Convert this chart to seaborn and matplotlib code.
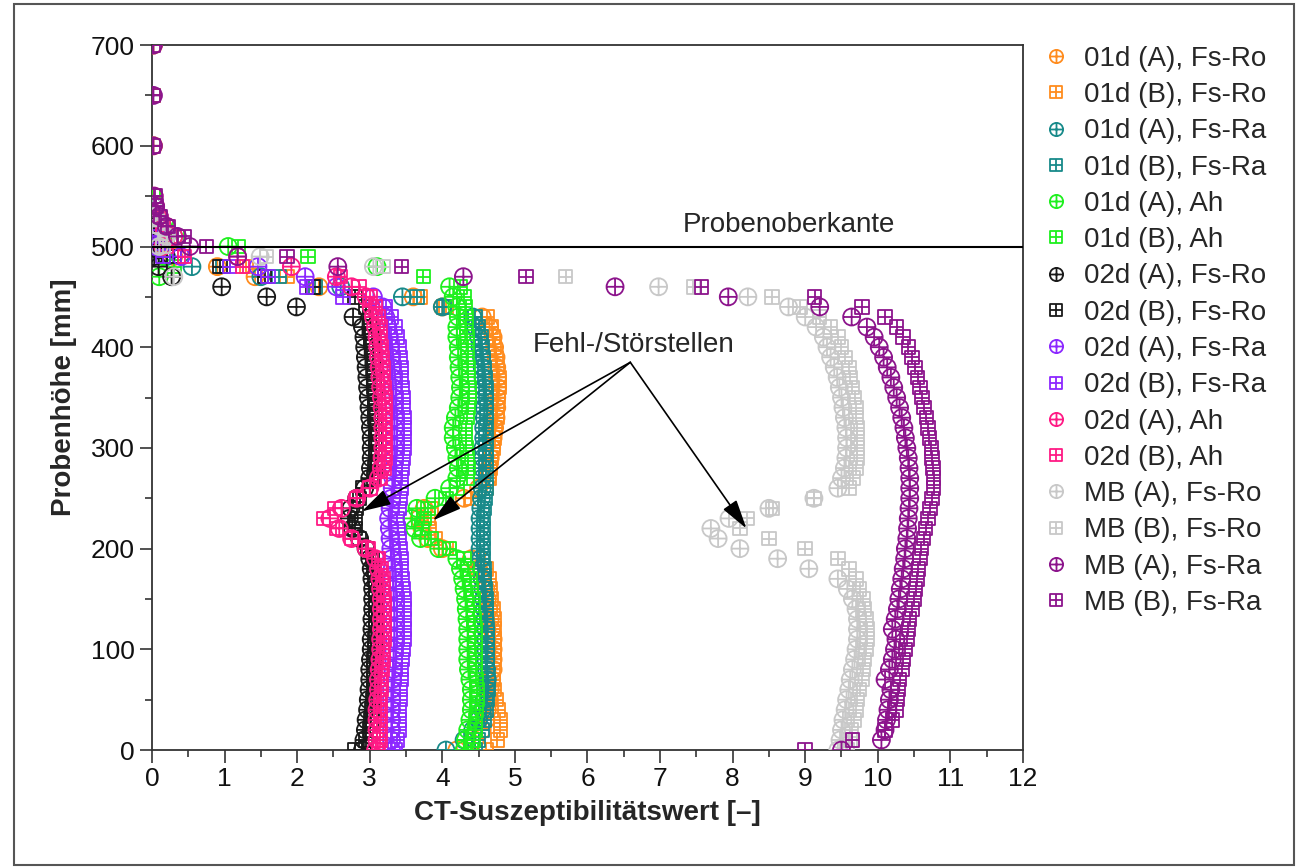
import numpy as np
import pandas as pd
import matplotlib
matplotlib.use("Agg")
import matplotlib.pyplot as plt
import seaborn as sns
from matplotlib.path import Path
from matplotlib.lines import Line2D
from matplotlib.patches import Rectangle

nan = np.nan

# sampling heights of the profiles (mm), top to bottom
HEIGHTS = [500, 490, 480, 470, 460, 450, 440, 430, 420, 410,
           400, 390, 380, 370, 360, 350, 340, 330, 320, 310,
           300, 290, 280, 270, 260, 250, 240, 230, 220, 210,
           200, 190, 180, 170, 160, 150, 140, 130, 120, 110,
           100, 90, 80, 70, 60, 50, 40, 30, 20, 10,
           0]
# points above the specimen top edge
TOP_HEIGHTS = [700, 650, 600, 550, 540, 530, 520, 510]

LABELS = ["01d (A), Fs-Ro", "01d (B), Fs-Ro", "01d (A), Fs-Ra", "01d (B), Fs-Ra",
          "01d (A), Ah", "01d (B), Ah", "02d (A), Fs-Ro", "02d (B), Fs-Ro",
          "02d (A), Fs-Ra", "02d (B), Fs-Ra", "02d (A), Ah", "02d (B), Ah",
          "MB (A), Fs-Ro", "MB (B), Fs-Ro", "MB (A), Fs-Ra", "MB (B), Fs-Ra"]

COLORS = ["#ff8c1e", "#ff8c1e", "#188a8a", "#188a8a",
          "#1ef01e", "#1ef01e", "#1a1a1a", "#1a1a1a",
          "#8c28ff", "#8c28ff", "#ff1a85", "#ff1a85",
          "#c8c8c8", "#c8c8c8", "#8c148c", "#8c148c"]

d01_A_FsRo = [0.05, 0.3, 0.9, 1.42, 2.3, 3.6, 4.0, 4.55, 4.65, 4.7,
              4.72, 4.74, 4.75, 4.76, 4.76, 4.75, 4.75, 4.74, 4.72, 4.7,
              4.68, 4.66, 4.64, 4.62, 4.5, 4.3, 3.75, 3.68, 3.72, 3.8,
              4.0, 4.4, 4.5, 4.55, 4.6, 4.62, 4.64, 4.66, 4.68, 4.7,
              4.7, 4.7, 4.7, 4.68, 4.66, 4.65, 4.62, 4.6, 4.55, 4.45,
              4.2]
d01_B_FsRo = [0.08, 0.4, 1.3, 1.86, 2.25, 3.7, 4.05, 4.62, 4.68, 4.7,
              4.72, 4.74, 4.76, 4.78, 4.78, 4.77, 4.76, 4.75, 4.73, 4.72,
              4.7, 4.68, 4.66, 4.64, 4.6, 4.4, 3.85, 3.8, 3.82, 3.9,
              4.05, 4.5, 4.6, 4.64, 4.66, 4.68, 4.7, 4.71, 4.72, 4.72,
              4.72, 4.71, 4.7, 4.7, 4.72, 4.74, 4.77, 4.8, 4.8, 4.76,
              4.6]
d01_A_FsRa = [0.03, 0.2, 0.55, 1.5, 2.6, 3.45, 4.0, 4.42, 4.46, 4.5,
              4.52, 4.54, 4.55, 4.56, 4.57, 4.58, 4.58, 4.58, 4.57, 4.57,
              4.56, 4.56, 4.55, 4.55, 4.55, 4.54, 4.53, 4.52, 4.52, 4.52,
              4.52, 4.53, 4.54, 4.55, 4.56, 4.57, 4.58, 4.59, 4.6, 4.6,
              4.6, 4.6, 4.61, 4.62, 4.6, 4.58, 4.55, 4.5, 4.42, 4.3,
              4.05]
d01_B_FsRa = [0.05, 0.3, 0.98, 1.75, 2.25, 3.65, 4.02, 4.45, 4.5, 4.53,
              4.55, 4.56, 4.58, 4.59, 4.6, 4.6, 4.61, 4.61, 4.6, 4.6,
              4.6, 4.6, 4.6, 4.6, 4.6, 4.59, 4.58, 4.57, 4.57, 4.57,
              4.57, 4.57, 4.58, 4.58, 4.59, 4.6, 4.6, 4.61, 4.62, 4.62,
              4.62, 4.62, 4.62, 4.63, 4.63, 4.62, 4.6, 4.58, 4.55, 4.5,
              4.45]
d01_A_Ah = [1.05, 0.15, 3.1, 0.1, 4.1, 4.15, 4.2, 4.22, 4.2, 4.2,
            4.22, 4.22, 4.23, 4.24, 4.25, 4.24, 4.22, 4.18, 4.15, 4.15,
            4.18, 4.2, 4.22, 4.2, 4.1, 3.9, 3.65, 3.58, 3.62, 3.7,
            3.95, 4.2, 4.25, 4.28, 4.3, 4.32, 4.33, 4.34, 4.35, 4.35,
            4.35, 4.35, 4.36, 4.38, 4.4, 4.4, 4.4, 4.38, 4.35, 4.32,
            4.3]
d01_B_Ah = [1.19, 2.15, 0.3, 3.74, 4.25, 4.3, 4.32, 4.33, 4.33, 4.34,
            4.35, 4.35, 4.36, 4.36, 4.37, 4.37, 4.36, 4.34, 4.32, 4.32,
            4.33, 4.35, 4.36, 4.34, 4.2, 4.05, 3.8, 3.75, 3.72, 3.85,
            4.1, 4.3, 4.35, 4.38, 4.4, 4.42, 4.43, 4.44, 4.45, 4.45,
            4.45, 4.46, 4.46, 4.47, 4.48, 4.48, 4.47, 4.46, 4.45, 4.43,
            4.4]
d02_A_FsRo = [0.02, 0.03, 0.09, 0.27, 0.96, 1.58, 1.99, 2.77, 2.9, 2.92,
              2.93, 2.94, 2.95, 2.96, 2.97, 2.98, 2.99, 3.0, 3.01, 3.02,
              3.02, 3.02, 3.01, 3.0, 2.93, 2.82, 2.74, 2.72, 2.76, 2.86,
              2.95, 3.0, 3.02, 3.03, 3.04, 3.04, 3.04, 3.03, 3.03, 3.02,
              3.02, 3.01, 3.0, 3.0, 2.99, 2.98, 2.97, 2.95, 2.94, 2.92,
              2.9]
d02_B_FsRo = [0.03, 0.3, 0.94, 1.55, 2.22, 2.8, 2.95, 3.0, 3.02, 3.03,
              3.04, 3.05, 3.05, 3.06, 3.06, 3.07, 3.07, 3.07, 3.08, 3.08,
              3.08, 3.08, 3.07, 3.05, 2.91, 2.86, 2.82, 2.8, 2.8, 2.85,
              2.97, 3.04, 3.06, 3.07, 3.08, 3.08, 3.08, 3.08, 3.08, 3.07,
              3.07, 3.06, 3.06, 3.05, 3.05, 3.04, 3.03, 3.02, 3.0, 2.95,
              2.8]
d02_A_FsRa = [0.05, 0.4, 1.46, 2.11, 2.54, 3.05, 3.18, 3.22, 3.25, 3.27,
              3.28, 3.29, 3.3, 3.31, 3.32, 3.33, 3.33, 3.34, 3.34, 3.34,
              3.34, 3.34, 3.33, 3.32, 3.31, 3.3, 3.28, 3.26, 3.27, 3.28,
              3.29, 3.3, 3.31, 3.32, 3.33, 3.33, 3.34, 3.34, 3.34, 3.34,
              3.33, 3.33, 3.32, 3.31, 3.3, 3.3, 3.3, 3.3, 3.3, 3.3,
              3.3]
d02_B_FsRa = [0.1, 0.15, 1.07, 1.6, 2.13, 2.63, 3.22, 3.3, 3.35, 3.38,
              3.4, 3.42, 3.43, 3.44, 3.45, 3.46, 3.46, 3.47, 3.47, 3.47,
              3.47, 3.46, 3.45, 3.44, 3.43, 3.42, 3.4, 3.38, 3.39, 3.4,
              3.42, 3.43, 3.44, 3.45, 3.46, 3.47, 3.47, 3.47, 3.47, 3.47,
              3.46, 3.45, 3.44, 3.43, 3.42, 3.42, 3.41, 3.4, 3.4, 3.38,
              3.35]
d02_A_Ah = [0.15, 1.18, 1.92, 2.54, 2.75, 2.95, 3.02, 3.05, 3.08, 3.1,
            3.11, 3.12, 3.13, 3.14, 3.15, 3.16, 3.17, 3.18, 3.18, 3.18,
            3.18, 3.17, 3.16, 3.12, 3.0, 2.82, 2.61, 2.45, 2.58, 2.75,
            2.95, 3.08, 3.12, 3.14, 3.15, 3.16, 3.16, 3.16, 3.16, 3.15,
            3.15, 3.14, 3.13, 3.12, 3.12, 3.11, 3.1, 3.1, 3.1, 3.1,
            3.08]
d02_B_Ah = [0.2, 0.45, 1.25, 2.6, 2.85, 3.0, 3.08, 3.12, 3.14, 3.15,
            3.16, 3.17, 3.18, 3.19, 3.2, 3.21, 3.22, 3.22, 3.22, 3.22,
            3.22, 3.21, 3.2, 3.15, 3.0, 2.82, 2.52, 2.36, 2.54, 2.75,
            2.98, 3.12, 3.16, 3.18, 3.19, 3.2, 3.2, 3.2, 3.2, 3.2,
            3.19, 3.18, 3.17, 3.16, 3.16, 3.15, 3.15, 3.15, 3.14, 3.14,
            3.12]
MB_A_FsRo = [0.1, 1.49, 3.05, 0.3, 6.98, 8.21, 8.77, 9.0, 9.15, 9.25,
             9.3, 9.35, 9.4, 9.44, 9.47, 9.5, 9.52, 9.54, 9.56, 9.57,
             9.57, 9.56, 9.54, 9.5, 9.45, 9.12, 8.5, 7.95, 7.7, 7.8,
             8.1, 8.62, 9.05, 9.45, 9.58, 9.65, 9.7, 9.72, 9.72, 9.72,
             9.7, 9.68, 9.65, 9.62, 9.6, 9.57, 9.55, 9.52, 9.5, 9.48,
             9.45]
MB_B_FsRo = [0.15, 1.58, 3.18, 5.7, 7.46, 8.54, 8.93, 9.2, 9.35, 9.45,
             9.5, 9.55, 9.6, 9.62, 9.65, 9.68, 9.7, 9.7, 9.72, 9.72,
             9.72, 9.71, 9.7, 9.66, 9.6, 9.12, 8.55, 8.2, 8.1, 8.5,
             9.0, 9.45, 9.6, 9.7, 9.75, 9.8, 9.82, 9.84, 9.85, 9.85,
             9.84, 9.82, 9.8, 9.78, 9.75, 9.72, 9.7, 9.67, 9.64, 9.62,
             9.58]
MB_A_FsRa = [0.52, 1.18, 2.56, 4.29, 6.38, 7.94, 9.2, 9.64, 9.85, 9.95,
             10.02, 10.08, 10.13, 10.18, 10.22, 10.26, 10.3, 10.33, 10.36, 10.38,
             10.4, 10.42, 10.43, 10.44, 10.44, 10.44, 10.43, 10.42, 10.41, 10.4,
             10.38, 10.37, 10.35, 10.33, 10.31, 10.29, 10.27, 10.24, 10.2, 10.25,
             10.23, 10.2, 10.16, 10.1, 10.18, 10.16, 10.14, 10.12, 10.1, 10.05,
             9.5]
MB_B_FsRa = [0.75, 1.86, 3.44, 5.15, 7.57, 9.13, 9.78, 10.1, 10.26, 10.35,
             10.42, 10.47, 10.51, 10.55, 10.58, 10.61, 10.64, 10.67, 10.69, 10.71,
             10.74, 10.75, 10.76, 10.77, 10.77, 10.75, 10.72, 10.69, 10.66, 10.63,
             10.6, 10.58, 10.56, 10.54, 10.52, 10.5, 10.47, 10.44, 10.42, 10.4,
             10.38, 10.35, 10.33, 10.3, 10.28, 10.27, 10.25, 10.2, 10.1, 9.65,
             9.0]

# values above 500 mm (at TOP_HEIGHTS)
d01_A_FsRo_top = [0.02, nan, 0.02, nan, 0.03, nan, 0.08, 0.15]
d01_B_FsRo_top = [nan, 0.02, nan, 0.02, nan, 0.05, nan, 0.2]
d01_A_FsRa_top = [nan, nan, nan, nan, 0.02, 0.04, 0.1, 0.2]
d01_B_FsRa_top = [nan, nan, nan, nan, nan, 0.05, 0.12, 0.25]
d01_A_Ah_top = [nan, nan, nan, nan, 0.03, 0.08, 0.15, 0.3]
d01_B_Ah_top = [nan, nan, nan, 0.02, 0.05, 0.1, 0.2, 0.35]
d02_A_FsRo_top = [nan, nan, nan, nan, nan, 0.02, 0.03, 0.03]
d02_B_FsRo_top = [nan, nan, nan, nan, nan, 0.03, 0.05, 0.08]
d02_A_FsRa_top = [nan, nan, nan, nan, 0.02, 0.05, 0.1, 0.18]
d02_B_FsRa_top = [nan, nan, nan, nan, nan, 0.03, 0.06, 0.1]
d02_A_Ah_top = [nan, nan, nan, 0.03, 0.05, 0.1, 0.2, 0.3]
d02_B_Ah_top = [nan, nan, nan, nan, 0.04, 0.08, 0.15, 0.25]
MB_A_FsRo_top = [nan, nan, nan, nan, 0.02, 0.05, 0.1, 0.2]
MB_B_FsRo_top = [nan, nan, nan, nan, nan, 0.04, 0.1, 0.2]
MB_A_FsRa_top = [0.02, 0.02, 0.02, 0.03, 0.05, 0.1, 0.2, 0.35]
MB_B_FsRa_top = [0.02, 0.02, 0.02, 0.04, 0.06, 0.12, 0.22, 0.45]

SERIES = [d01_A_FsRo, d01_B_FsRo, d01_A_FsRa, d01_B_FsRa, d01_A_Ah, d01_B_Ah,
          d02_A_FsRo, d02_B_FsRo, d02_A_FsRa, d02_B_FsRa, d02_A_Ah, d02_B_Ah,
          MB_A_FsRo, MB_B_FsRo, MB_A_FsRa, MB_B_FsRa]
SERIES_TOP = [d01_A_FsRo_top, d01_B_FsRo_top, d01_A_FsRa_top, d01_B_FsRa_top,
              d01_A_Ah_top, d01_B_Ah_top, d02_A_FsRo_top, d02_B_FsRo_top,
              d02_A_FsRa_top, d02_B_FsRa_top, d02_A_Ah_top, d02_B_Ah_top,
              MB_A_FsRo_top, MB_B_FsRo_top, MB_A_FsRa_top, MB_B_FsRa_top]

# annotation: label position, arrow start and arrow tips
DEFECT_TEXT_POS = (6.63, 402)
DEFECT_ARROW_FROM = (6.59, 385)
DEFECT_TIPS = [(2.89, 237), (3.87, 228), (8.19, 220)]


def make_markers():
    cross = Path([(-1, 0), (1, 0), (0, -1), (0, 1)],
                 [Path.MOVETO, Path.LINETO, Path.MOVETO, Path.LINETO])
    circ = Path.make_compound_path(Path.unit_circle(), cross)
    square = Path([(-1, -1), (1, -1), (1, 1), (-1, 1), (-1, -1)],
                  [Path.MOVETO, Path.LINETO, Path.LINETO, Path.LINETO, Path.CLOSEPOLY])
    sq = Path.make_compound_path(square, cross)
    return circ, sq


def build_frame():
    rows = []
    for lab, vals, top in zip(LABELS, SERIES, SERIES_TOP):
        for h, v in zip(HEIGHTS, vals):
            rows.append((lab, v, h))
        for h, v in zip(TOP_HEIGHTS, top):
            if not np.isnan(v):
                rows.append((lab, v, h))
    return pd.DataFrame(rows, columns=["series", "x", "y"])


def main():
    sns.set_theme(style="ticks")
    plt.rcParams["font.family"] = ["Liberation Sans", "DejaVu Sans"]

    df = build_frame()
    circ, sq = make_markers()

    fig = plt.figure(figsize=(12.97, 8.67), dpi=100)
    ax = fig.add_axes([0.1172, 0.1349, 0.6715, 0.8131])

    handles = []
    for lab, col in zip(LABELS, COLORS):
        sub = df[df["series"] == lab]
        is_a = "(A)" in lab
        sns.scatterplot(x=sub["x"], y=sub["y"], ax=ax, marker=circ if is_a else sq,
                        s=150 if is_a else 95, color=col, facecolor="none",
                        edgecolor=col, linewidth=1.3, legend=False, zorder=3)
        handles.append(Line2D([], [], linestyle="none", marker=circ if is_a else sq,
                              markersize=9.5 if is_a else 8, markerfacecolor="none",
                              markeredgecolor=col, markeredgewidth=1.3))

    ax.axhline(500, color="black", lw=1.5, zorder=4)
    ax.text(8.78, 508, "Probenoberkante", ha="center", va="bottom", fontsize=20)

    ax.text(*DEFECT_TEXT_POS, "Fehl-/Störstellen", ha="center", va="center", fontsize=20)
    for tip in DEFECT_TIPS:
        ax.annotate("", xy=tip, xytext=DEFECT_ARROW_FROM,
                    arrowprops=dict(arrowstyle="-|>,head_length=0.9,head_width=0.25",
                                    color="black", lw=1.2, mutation_scale=20,
                                    shrinkA=0, shrinkB=0), zorder=5)

    ax.set_xlim(0, 12)
    ax.set_ylim(0, 700)
    ax.set_xticks(range(0, 13))
    ax.set_xticks(np.arange(0, 12.01, 0.5), minor=True)
    ax.set_yticks(range(0, 701, 100))
    ax.set_yticks(range(0, 701, 50), minor=True)
    ax.tick_params(axis="both", which="major", direction="out", length=9, width=1.2,
                   labelsize=19, color="#333333", labelcolor="#111111")
    ax.tick_params(axis="both", which="minor", direction="out", length=5, width=1.2,
                   color="#333333")
    for sp in ax.spines.values():
        sp.set_visible(True)
        sp.set_color("#333333")
        sp.set_linewidth(1.3)

    ax.set_xlabel("CT-Suszeptibilitätswert [–]", fontsize=20, fontweight="bold", labelpad=6)
    ax.set_ylabel("Probenhöhe [mm]", fontsize=20, fontweight="bold", labelpad=10)

    ax.legend(handles, LABELS, loc="upper left", bbox_to_anchor=(0.795, 0.960),
              bbox_transform=fig.transFigure, frameon=False, fontsize=20,
              handlelength=1.0, handletextpad=0.5, labelspacing=0.37,
              borderaxespad=0, borderpad=0.4)

    fig.patches.append(Rectangle((0.0108, 0.002), 0.987, 0.9934, transform=fig.transFigure,
                                 fill=False, edgecolor="#555555", lw=1.5))

    fig.savefig("out.png", dpi=100)


if __name__ == "__main__":
    main()
